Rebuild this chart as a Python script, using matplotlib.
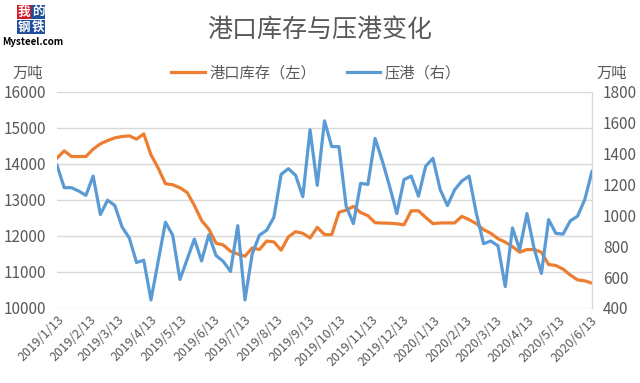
import matplotlib
matplotlib.use("Agg")
import matplotlib.pyplot as plt
import matplotlib.dates as mdates
import pandas as pd
import numpy as np

plt.rcParams['font.family'] = ['Noto Sans CJK SC', 'DejaVu Sans']

title = "港口库存与压港变化"
unit_label = "万吨"
series_inventory_name = "港口库存（左）"
series_congestion_name = "压港（右）"

start_date = "2019-01-13"
n_weeks = 75

inventory = [14163, 14366, 14208, 14208, 14208, 14413, 14560, 14652, 14726, 14763,
             14781, 14690, 14837, 14255, 13886, 13452, 13424, 13340, 13210, 12850,
             12430, 12190, 11800, 11750, 11577, 11500, 11438, 11670, 11624, 11860,
             11836, 11605, 11975, 12120, 12075, 11945, 12240, 12039, 12039, 12657,
             12720, 12823, 12650, 12565, 12370, 12360, 12355, 12340, 12310, 12700,
             12700, 12515, 12344, 12363, 12363, 12363, 12546, 12454, 12344, 12177,
             12075, 11925, 11830, 11705, 11550, 11624, 11624, 11550, 11208, 11180,
             11080, 10915, 10782, 10755, 10690]

congestion = [1325, 1180, 1180, 1158, 1130, 1255, 1006, 1099, 1064, 925,
              854, 695, 710, 452, 704, 956, 872, 585, 715, 847,
              705, 875, 740, 702, 637, 934, 452, 750, 872, 904,
              988, 1266, 1303, 1260, 1121, 1555, 1195, 1613, 1446, 1446,
              1058, 947, 1208, 1201, 1499, 1353, 1190, 1012, 1232, 1255,
              1125, 1320, 1370, 1168, 1064, 1166, 1223, 1255, 1014, 817,
              834, 803, 539, 919, 778, 1012, 784, 624, 973, 884,
              879, 965, 995, 1103, 1285]

x_tick_labels = ["2019/1/13", "2019/2/13", "2019/3/13", "2019/4/13", "2019/5/13",
                 "2019/6/13", "2019/7/13", "2019/8/13", "2019/9/13", "2019/10/13",
                 "2019/11/13", "2019/12/13", "2020/1/13", "2020/2/13", "2020/3/13",
                 "2020/4/13", "2020/5/13", "2020/6/13"]

left_ticks = [10000, 11000, 12000, 13000, 14000, 15000, 16000]
right_ticks = [400, 600, 800, 1000, 1200, 1400, 1600, 1800]

dates = pd.date_range(start_date, periods=n_weeks, freq="7D")
tick_dates = pd.to_datetime(x_tick_labels, format="%Y/%m/%d")

c_orange = "#ED7D31"
c_blue = "#5B9BD5"
c_text = "#595959"
c_grid = "#D9D9D9"

fig = plt.figure(figsize=(6.4, 3.83), dpi=100)
ax = fig.add_axes([57/640, 1-308/383, (592-57)/640, (308-92)/383])
ax2 = ax.twinx()

ax.plot(dates, inventory, color=c_orange, lw=2.3, solid_joinstyle="round", zorder=3)
ax2.plot(dates, congestion, color=c_blue, lw=2.3, solid_joinstyle="round", zorder=3)

ax.set_ylim(left_ticks[0], left_ticks[-1])
ax.set_yticks(left_ticks)
ax2.set_ylim(right_ticks[0], right_ticks[-1])
ax2.set_yticks(right_ticks)
ax.set_xlim(dates[0], dates[-1])

ax.set_xticks(tick_dates)
ax.set_xticklabels(x_tick_labels, rotation=45, ha="right", va="top",
                   rotation_mode="anchor", fontsize=9, color=c_text)
ax.tick_params(axis="x", length=0, pad=4)
ax.tick_params(axis="y", length=0, pad=8, labelsize=11, labelcolor=c_text)
ax2.tick_params(axis="y", length=0, pad=8, labelsize=11, labelcolor=c_text)

ax.grid(axis="y", color=c_grid, lw=1)
ax.set_axisbelow(True)
for s in ["top", "left", "bottom"]:
    ax.spines[s].set_visible(False)
    ax2.spines[s].set_visible(False)
ax.spines["right"].set_visible(False)
ax2.spines["right"].set_color(c_grid)
ax2.spines["right"].set_linewidth(1)

fig.text(320/640, 1-30/383, title, ha="center", va="center", fontsize=18, color=c_text)
fig.text(28/640, 1-73/383, unit_label, ha="center", va="center", fontsize=11, color=c_text)
fig.text(612/640, 1-73/383, unit_label, ha="center", va="center", fontsize=11, color=c_text)

from matplotlib.lines import Line2D
handles = [Line2D([], [], color=c_orange, lw=2.3), Line2D([], [], color=c_blue, lw=2.3)]
leg = fig.legend(handles, [series_inventory_name, series_congestion_name],
                 loc="center", bbox_to_anchor=(316/640, 1-73/383), ncol=2, frameon=False,
                 fontsize=11, handlelength=2.2, handletextpad=0.3, columnspacing=2.0)
for t in leg.get_texts():
    t.set_color(c_text)

# logo
logo_chars = ["我", "的", "钢", "铁"]
logo_colors = ["#D7182A", "#1F4E9A", "#1F4E9A", "#1F4E9A"]
logo_pos = [(24, 12), (38, 12), (24, 27), (38, 27)]
for ch, col, (px, py) in zip(logo_chars, logo_colors, logo_pos):
    fig.text(px/640, 1-py/383, ch, ha="center", va="center", fontsize=9,
             color="white", fontweight="bold",
             bbox=dict(boxstyle="square,pad=0.05", fc=col, ec="none"))
fig.text(33/640, 1-42/383, "Mysteel.com", ha="center", va="center", fontsize=7,
         color="black", fontweight="bold")

fig.savefig("out.png", dpi=100, facecolor="white")
